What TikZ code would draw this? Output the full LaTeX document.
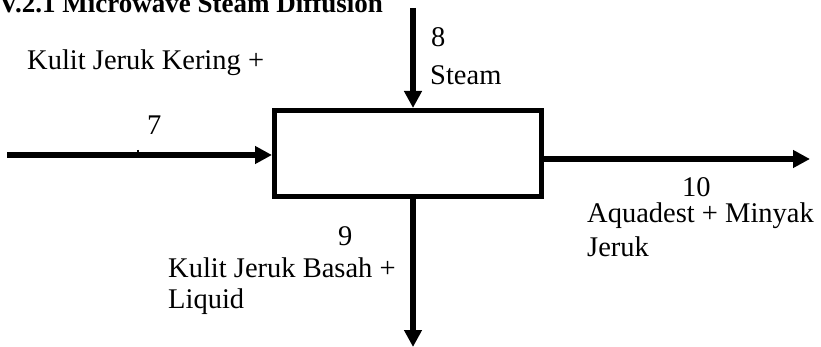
\documentclass[tikz,border=0pt]{standalone}
\usepackage{fontspec}
\setmainfont{Liberation Serif}
\usetikzlibrary{arrows.meta}
\tikzset{
  flow/.style={line width=6.5pt, -{Triangle[length=17pt,width=17pt]}},
  lbl/.style={inner sep=0pt, anchor=base west, font=\fontsize{28.5}{31}\selectfont, align=left},
  procbox/.style={draw, line width=5pt, minimum width=267pt, minimum height=86.5pt, inner sep=0pt}
}
\begin{document}
\begin{tikzpicture}[x=1pt,y=1pt]
\useasboundingbox (0,0) rectangle (821,-347);
\node[inner sep=0pt, anchor=base west, font=\fontsize{27}{30}\selectfont\bfseries] (title) at (-1,-13) {V.2.1 Microwave Steam Diffusion};
\node[procbox] (box) at (408,-153.75) {};
\coordinate (in7) at (7,-155);
\coordinate (in8) at (413,-8);
\coordinate (out9) at (413,-347);
\coordinate (out10) at (810,-159);
\draw[flow] (in7) -- (in7 -| box.west);
\draw[flow] (in8) -- (in8 |- box.north);
\draw[flow] (out9 |- box.south) -- (out9);
\draw[flow] (out10 -| box.east) -- (out10);
\coordinate (tick) at (138,-150);
\draw[line width=1.2pt] (tick) -- ++(0,-4);
\node[lbl] (tkering) at (27,-70) {Kulit Jeruk Kering +};
\node[lbl] (t7) at (147,-135) {7};
\node[lbl] (t8) at (431,-47) {8};
\node[lbl] (tsteam) at (430,-85) {Steam};
\node[lbl] (t10) at (682,-197) {10};
\node[lbl] (taqua) at (587,-223) {Aquadest + Minyak};
\node[lbl] (tjeruk) at (587,-256) {Jeruk};
\node[lbl] (t9) at (338,-245) {9};
\node[lbl] (tbasah) at (168,-277) {Kulit Jeruk Basah +};
\node[lbl] (tliquid) at (168,-308) {Liquid};
\end{tikzpicture}
\end{document}
